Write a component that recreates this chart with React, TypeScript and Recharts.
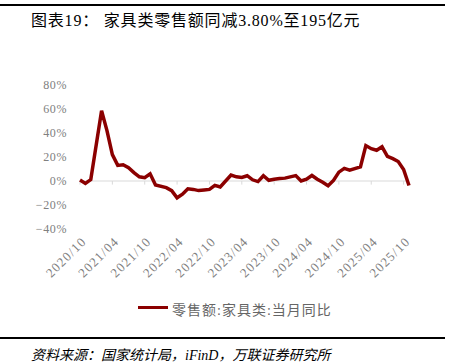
import { LineChart, Line, XAxis, YAxis, ReferenceLine } from 'recharts';

// monthly categories, Jan has no data (Jan-Feb reported together)
const months = [
  '2020/10', '2020/11', '2020/12',
  '2021/01', '2021/02', '2021/03', '2021/04', '2021/05', '2021/06', '2021/07', '2021/08', '2021/09', '2021/10', '2021/11', '2021/12',
  '2022/01', '2022/02', '2022/03', '2022/04', '2022/05', '2022/06', '2022/07', '2022/08', '2022/09', '2022/10', '2022/11', '2022/12',
  '2023/01', '2023/02', '2023/03', '2023/04', '2023/05', '2023/06', '2023/07', '2023/08', '2023/09', '2023/10', '2023/11', '2023/12',
  '2024/01', '2024/02', '2024/03', '2024/04', '2024/05', '2024/06', '2024/07', '2024/08', '2024/09', '2024/10', '2024/11', '2024/12',
  '2025/01', '2025/02', '2025/03', '2025/04', '2025/05', '2025/06', '2025/07', '2025/08', '2025/09', '2025/10', '2025/11',
];

// 零售额:家具类:当月同比 (%)
const furnitureYoY: (number | null)[] = [
  0.8, -2, 1.2,
  null, 58.6, 42, 22, 13, 13.5, 11, 7, 3.5, 2.8, 6, -3.3,
  null, -5.5, -8, -14, -11, -6.5, -7, -8, -7.5, -7, -3.6, -5,
  null, 5, 3.5, 3, 4.4, 1, -0.5, 4.4, 0.6, 1.5, 2, 2.4,
  null, 4.5, 0, 1.5, 4.6, 1.5, -1, -4, 0.5, 7.4, 10.5, 9,
  null, 11.7, 29.5, 26.9, 25.6, 28.5, 20.6, 18.6, 16.2, 9.6, -3.8,
];

const xTicks = ['2020/10', '2021/04', '2021/10', '2022/04', '2022/10', '2023/04', '2023/10', '2024/04', '2024/10', '2025/04', '2025/10'];
const yTicks = [-40, -20, 0, 20, 40, 60, 80];

const seriesName = '零售额:家具类:当月同比';
const lineColor = '#8b0000';
const serif = '"Liberation Serif", "Noto Sans CJK SC", serif';

const data = months.map((m, i) => ({ month: m, value: furnitureYoY[i] }));

function XTick(props: any) {
  const { x, y, payload } = props;
  return (
    <g transform={`translate(${x + 4},${y + 2})`}>
      <text
        x={0}
        y={0}
        dy="0.35em"
        textAnchor="end"
        transform="rotate(-45)"
        fontSize={13}
        letterSpacing={1.2}
        fontFamily={serif}
        fill="#808080"
      >
        {payload.value}
      </text>
    </g>
  );
}

const fmtY = (v: number) => (v < 0 ? `\u2212${Math.abs(v)}%` : `${v}%`);

export default function App() {
  return (
    <div style={{ position: 'absolute', left: 0, top: 0, width: 455, height: 363, background: '#fff' }}>
      <div style={{ position: 'absolute', left: 0, top: 4, width: 445, height: 2, background: '#000' }} />
      <div
        style={{
          position: 'absolute',
          left: 31,
          top: 7,
          fontSize: 16,
          letterSpacing: 0.8,
          fontFamily: serif,
          color: '#000',
          whiteSpace: 'nowrap',
        }}
      >
        图表19： 家具类零售额同减3.80%至195亿元
      </div>

      <div style={{ position: 'absolute', left: 0, top: 0 }}>
        <LineChart width={455} height={363} data={data} margin={{ top: 85, right: 46, bottom: 84, left: 0 }}>
          <XAxis
            dataKey="month"
            ticks={xTicks}
            interval={0}
            axisLine={false}
            tickLine={false}
            height={50}
            tick={<XTick />}
          />
          <YAxis
            domain={[-40, 80]}
            ticks={yTicks}
            width={80}
            axisLine={false}
            tickLine={false}
            tickFormatter={fmtY}
            tick={{ fontSize: 12, fontFamily: serif, fill: '#808080', letterSpacing: 0.6 }}
            tickMargin={7}
          />
          <ReferenceLine y={0} stroke="#d9d9d9" strokeWidth={1} ifOverflow="visible" />
          {xTicks.map((t) => (
            <ReferenceLine
              key={t}
              segment={[{ x: t, y: 0 }, { x: t, y: -3 }]}
              stroke="#d9d9d9"
              strokeWidth={1}
              ifOverflow="visible"
            />
          ))}
          <Line
            dataKey="value"
            name={seriesName}
            type="linear"
            stroke={lineColor}
            strokeWidth={3.5}
            dot={false}
            connectNulls
            isAnimationActive={false}
          />
        </LineChart>
      </div>

      <div style={{ position: 'absolute', left: 138, top: 306, width: 30, height: 3, background: lineColor }} />
      <div
        style={{
          position: 'absolute',
          left: 172,
          top: 299,
          fontSize: 14,
          letterSpacing: 1,
          fontFamily: serif,
          color: '#666',
          whiteSpace: 'nowrap',
        }}
      >
        {seriesName}
      </div>

      <div style={{ position: 'absolute', left: 0, top: 337, width: 445, height: 2, background: '#000' }} />
      <div
        style={{
          position: 'absolute',
          left: 31,
          top: 344,
          fontSize: 14,
          fontFamily: serif,
          fontStyle: 'italic',
          color: '#000',
          whiteSpace: 'nowrap',
        }}
      >
        资料来源：国家统计局，iFinD，万联证券研究所
      </div>
    </div>
  );
}
